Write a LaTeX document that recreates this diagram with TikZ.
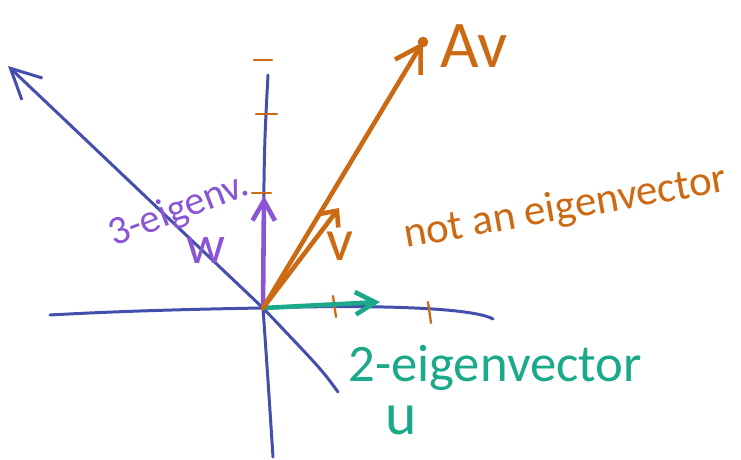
\documentclass[tikz,border=0pt]{standalone}
\usepackage{fontspec}
\setsansfont{Carlito}
\usetikzlibrary{arrows.meta}
\definecolor{axis}{HTML}{434EAD}
\definecolor{amber}{HTML}{CC6A14}
\definecolor{grape}{HTML}{8A55D4}
\definecolor{jade}{HTML}{1BA98A}

\begin{document}
\begin{tikzpicture}[x=0.02cm,y=-0.02cm,font=\sffamily,line cap=round,
  axisline/.style={axis,line width=1.7pt},
  tickmark/.style={amber,line width=1.3pt},
  vec/.style={line width=2.6pt},
  hand/.style={font=\sffamily\fontsize{#1}{#1}\selectfont,inner sep=0pt}]
  \useasboundingbox (0,0) rectangle (741,460);

  \coordinate (O) at (263,308);
  \coordinate (xl) at (50,315);
  \coordinate (xr) at (493,319);
  \coordinate (yt) at (268,75);
  \coordinate (yb) at (273,457);
  \coordinate (dl) at (8,66);
  \coordinate (dr) at (338,392);
  \coordinate (u) at (380,302);
  \coordinate (w) at (264,196);
  \coordinate (v) at (339,208);
  \coordinate (Av) at (423,42);

  \draw[axisline] (xl) .. controls (120,311) and (200,309) .. (O)
    .. controls (350,305) and (470,306) .. (xr);
  \draw[axisline] (yt) .. controls (264,150) .. (O)
    .. controls (268,380) .. (yb);
  \draw[axisline,-{Straight Barb[length=6mm,width=6mm]}]
    (dr) .. controls (322,370) .. (O) -- (dl);

  \foreach \y/\a/\b in {60/254/272,114/256/277,193/252/271}
    \draw[tickmark] (\a,\y) -- (\b,\y);
  \foreach \x/\s in {334/296,429/302}
    \draw[tickmark] (\x-1,\s) -- (\x+2,\s+21);

  \draw[jade,vec,-{Straight Barb[length=4mm,width=4.5mm]}] (O) -- (u);
  \draw[grape,vec,-{Straight Barb[length=4mm,width=4.5mm]}] (O) -- (w);
  \draw[amber,vec,-{Straight Barb[length=2.5mm,width=4.5mm]}] (O) -- (v);
  \draw[amber,vec,-{Straight Barb[length=5mm,width=6mm]}] (O) -- (Av);
  \fill[amber] (Av) circle[radius=3pt];

  \node[amber,hand=38,anchor=base west] (AvText) at (440,67) {Av};
  \node[amber,hand=34] (vText) at (340,246) {v};
  \node[amber,hand=24.5,anchor=base west,rotate=10] (noteig) at (406,248)
    {not an eigenvector};
  \node[grape,hand=23,anchor=base west,rotate=21] (eig3) at (114,247)
    {3-eigenv.};
  \node[grape,hand=31] (wText) at (206,250) {w};
  \node[jade,hand=30,anchor=base west] (eig2) at (348,381) {2-eigenvector};
  \node[jade,hand=34] (uText) at (401,420) {u};
\end{tikzpicture}
\end{document}
